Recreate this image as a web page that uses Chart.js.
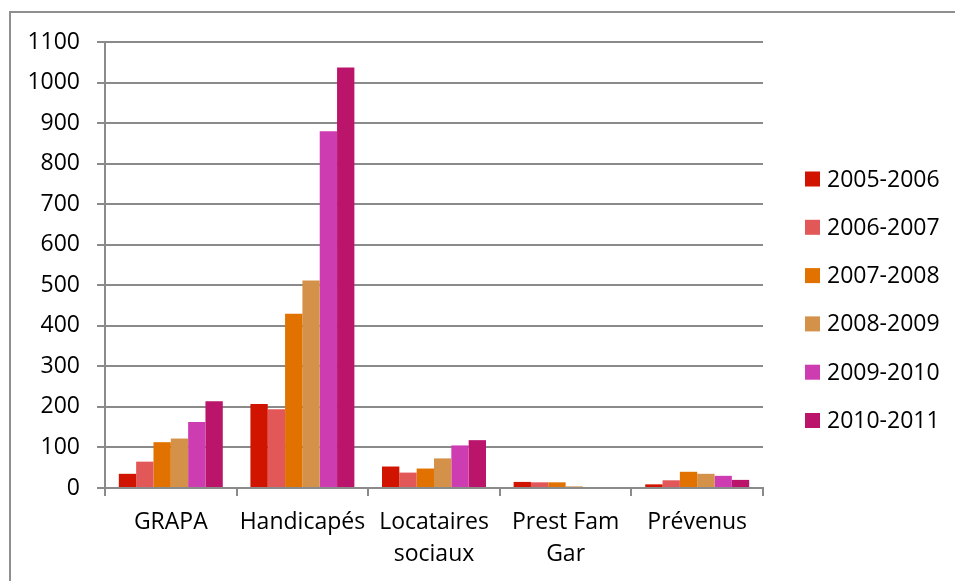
<!DOCTYPE html>
<html>
<head>
<meta charset="utf-8">
<script src="https://cdn.jsdelivr.net/npm/chart.js@4/dist/chart.umd.min.js"></script>
<style>
  html, body { margin: 0; padding: 0; background: #fff; }
  canvas { display: block; }
</style>
</head>
<body>
<canvas id="c" width="955" height="581"></canvas>
<script>
const categories = ["GRAPA", "Handicapés", ["Locataires", "sociaux"], ["Prest Fam", "Gar"], "Prévenus"];
const seriesLabels = ["2005-2006", "2006-2007", "2007-2008", "2008-2009", "2009-2010", "2010-2011"];
const s2005 = [35, 207, 53, 15, 9];
const s2006 = [65, 194, 38, 14, 19];
const s2007 = [113, 430, 48, 14, 40];
const s2008 = [122, 512, 73, 4, 35];
const s2009 = [163, 880, 105, 0, 30];
const s2010 = [214, 1037, 118, 0, 20];
const seriesColors = ["#D11400", "#E25757", "#E27200", "#D39149", "#CE3CB1", "#BA156A"];
const yTicksMax = 1100;
const yStep = 100;

const seriesValues = [s2005, s2006, s2007, s2008, s2009, s2010];
const GRID = "#8a8a8a";

const frame = {
  id: "frame",
  beforeDraw(chart) {
    const ctx = chart.ctx;
    ctx.save();
    ctx.strokeStyle = "#8f8f8f";
    ctx.lineWidth = 2;
    ctx.beginPath();
    ctx.moveTo(10, 600);
    ctx.lineTo(10, 12);
    ctx.lineTo(960, 12);
    ctx.stroke();
    ctx.restore();
  }
};

const customLegend = {
  id: "customLegend",
  afterDraw(chart) {
    const ctx = chart.ctx;
    const a = chart.chartArea;
    ctx.save();
    ctx.font = "23px 'Open Sans'";
    ctx.textBaseline = "middle";
    ctx.textAlign = "left";
    seriesLabels.forEach((lab, i) => {
      const cy = a.top + 137 + i * 48.3;
      const bx = a.right + 42;
      ctx.fillStyle = seriesColors[i];
      ctx.fillRect(bx, cy - 7.5, 15, 15);
      ctx.fillStyle = "#000";
      ctx.fillText(lab, bx + 22, cy + 1);
    });
    ctx.restore();
  }
};

new Chart(document.getElementById("c"), {
  type: "bar",
  data: {
    labels: categories,
    datasets: seriesLabels.map((lab, i) => ({
      label: lab,
      data: seriesValues[i],
      backgroundColor: seriesColors[i],
      borderWidth: 0,
      categoryPercentage: 0.79,
      barPercentage: 1.0
    }))
  },
  options: {
    responsive: false,
    animation: false,
    devicePixelRatio: 1,
    layout: { padding: { top: 42, right: 192, bottom: 0, left: 0 } },
    plugins: {
      legend: { display: false },
      tooltip: { enabled: false }
    },
    scales: {
      x: {
        offset: true,
        afterFit(scale) { scale.height = 93; },
        grid: {
          display: true,
          drawOnChartArea: false,
          drawTicks: true,
          tickLength: 8,
          color: GRID,
          lineWidth: 2,
          offset: true
        },
        border: { display: true, color: GRID, width: 2 },
        ticks: {
          color: "#000",
          padding: 10,
          maxRotation: 0,
          autoSkip: false,
          font: { family: "'Open Sans'", size: 23, lineHeight: 1.4 }
        }
      },
      y: {
        min: 0,
        max: yTicksMax,
        afterFit(scale) { scale.width = 105; },
        grid: {
          color: GRID,
          lineWidth: 2,
          drawTicks: true,
          tickLength: 8
        },
        border: { display: true, color: GRID, width: 2 },
        ticks: {
          stepSize: yStep,
          color: "#000",
          padding: 17,
          callback: (v) => String(v),
          font: { family: "'Open Sans'", size: 23 }
        }
      }
    }
  },
  plugins: [frame, customLegend]
});
</script>
</body>
</html>
